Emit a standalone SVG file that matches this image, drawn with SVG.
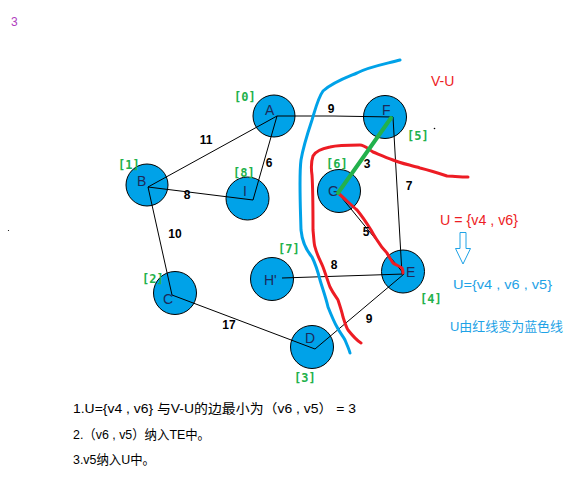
<svg xmlns="http://www.w3.org/2000/svg" width="586" height="480" viewBox="0 0 586 480">
<style>
.node{fill:#00a2e8;stroke:#000;stroke-width:1}
.nl{font-family:"Liberation Sans",Arial,sans-serif;font-size:14px;fill:#1c2a5a}
.edge{stroke:#000;stroke-width:1;fill:none}
.el{font-family:"Liberation Sans",Arial,sans-serif;font-size:12px;font-weight:bold;fill:#000;text-anchor:middle}
.gl{font-family:"DejaVu Sans Mono",monospace;font-size:12px;font-weight:bold;fill:#22b14c}
.txt{font-family:"Liberation Sans","Noto Sans CJK SC",sans-serif;font-size:13px;fill:#000}
.red{font-family:"Liberation Sans","Noto Sans CJK SC",sans-serif;font-size:14px;fill:#ed1c24}
.blue{font-family:"Liberation Sans","Noto Sans CJK SC",sans-serif;font-size:13px;fill:#1ea2e6}
</style>
<rect width="586" height="480" fill="#fff"/>
<text x="11" y="26" font-family="Liberation Sans,sans-serif" font-size="12" fill="#b040c0">3</text>
<g id="nA"><circle class="node" cx="274" cy="116" r="21"/><text class="nl" x="265" y="115">A</text></g>
<g id="nB"><circle class="node" cx="147" cy="185" r="21"/><text class="nl" x="137" y="186">B</text></g>
<g id="nI"><circle class="node" cx="247.5" cy="198.5" r="21.5"/><text class="nl" x="243" y="196">I</text></g>
<g id="nG"><circle class="node" cx="339" cy="191" r="21.5"/><text class="nl" x="328" y="196">G</text></g>
<g id="nF"><circle class="node" cx="385" cy="117" r="21.5"/><text class="nl" x="382" y="115">F</text></g>
<g id="nE"><circle class="node" cx="403" cy="271.5" r="21.5"/><text class="nl" x="406" y="277">E</text></g>
<g id="nH"><circle class="node" cx="272" cy="279" r="21.5"/><text class="nl" x="264" y="285">H'</text></g>
<g id="nC"><circle class="node" cx="175" cy="293" r="21.5"/><text class="nl" x="163" y="304">C</text></g>
<g id="nD"><circle class="node" cx="312" cy="347" r="21.5"/><text class="nl" x="305" y="343">D</text></g>
<g id="connectors">
<line class="edge" x1="277" y1="116" x2="148" y2="187"/>
<line class="edge" x1="277" y1="116" x2="253" y2="200"/>
<polyline class="edge" points="277,116 333,116 393,117"/>
<line class="edge" x1="148" y1="187" x2="253" y2="200"/>
<line class="edge" x1="148" y1="187" x2="172" y2="295"/>
<line class="edge" x1="172" y1="295" x2="315" y2="349"/>
<line class="edge" x1="315" y1="349" x2="404" y2="274"/>
<line class="edge" x1="282" y1="278" x2="404" y2="274"/>
<line class="edge" x1="393" y1="117" x2="402" y2="274"/>
<line class="edge" x1="338" y1="193" x2="404" y2="274"/>
</g>
<g id="curves" fill="none" stroke-linejoin="round" stroke-linecap="round">
<path d="M400,60 C385,64 368,67 357,73 C345,78 333,82 323,91 C318,98 316,107 312,120 C308,132 303,148 301,160 C299,175 300,195 301,230 C302,240 306,250 312,257 C316,265 318,272 320,280 C323,290 326,298 328,307 C332,317 334,322 337,327 C340,333 343,336 345,340 C347,345 349,349 350,353" stroke="#00a2e8" stroke-width="3"/>
<path d="M468,177 C460,177 452,176 447,176 C438,173 428,170 420,168 C410,165 400,163 393,160 C385,157 378,154 373,152 C367,148 364,145 360,145 C350,145 338,145 330,147 C320,149 315,152 313,156 C311,162 311,168 312,175 C313,190 313,210 313,230 C314,240 314,245 315,247 C317,255 320,260 323,267 C326,275 328,282 330,287 C333,293 336,297 338,300 C340,306 342,312 343,317 C345,323 346,327 348,330 C352,335 356,340 361,343" stroke="#ed1c24" stroke-width="3"/>
<path d="M338,193 C345,199 351,205 357,210 C362,216 366,222 371,230 C373,234 375,237 377,240 C380,245 384,250 387,253 C389,257 391,260 393,263 C396,265 399,266 402,268 C403,270 403,272 403,273" stroke="#ed1c24" stroke-width="3"/>
<line x1="338" y1="193" x2="391" y2="118" stroke="#22b14c" stroke-width="4"/>
</g>
<g id="edge-labels">
<text class="el" x="206" y="144">11</text>
<text class="el" x="269" y="167">6</text>
<text class="el" x="187" y="199">8</text>
<text class="el" x="331" y="113">9</text>
<text class="el" x="367" y="168">3</text>
<text class="el" x="409" y="190">7</text>
<text class="el" x="175" y="238">10</text>
<text class="el" x="366" y="236">5</text>
<text class="el" x="334" y="269">8</text>
<text class="el" x="229" y="329">17</text>
<text class="el" x="369" y="323">9</text>
</g>
<g id="index-labels">
<text class="gl" x="234" y="101">[0]</text>
<text class="gl" x="118" y="169">[1]</text>
<text class="gl" x="233" y="177">[8]</text>
<text class="gl" x="326" y="168">[6]</text>
<text class="gl" x="407" y="140">[5]</text>
<text class="gl" x="278" y="253">[7]</text>
<text class="gl" x="142" y="283">[2]</text>
<text class="gl" x="294" y="382">[3]</text>
<text class="gl" x="420" y="303">[4]</text>
</g>
<circle cx="434.5" cy="128.5" r="0.8" fill="#000"/>
<circle cx="8.5" cy="230.5" r="0.6" fill="#000"/>
<text class="red" x="431" y="86">V-U</text>
<text class="red" x="440" y="225" textLength="78" lengthAdjust="spacingAndGlyphs">U = {v4 , v6}</text>
<path d="M460,232.5 H466 V248.5 H470.5 L463,264 L455.5,248.5 H460 Z" fill="none" stroke="#1ea2e6" stroke-width="1"/>
<text class="blue" x="453" y="289" textLength="99" lengthAdjust="spacingAndGlyphs">U={v4 , v6 , v5}</text>
<text class="blue" x="450" y="331" textLength="113" lengthAdjust="spacingAndGlyphs">U由红线变为蓝色线</text>
<text class="txt" x="73" y="413" textLength="283" lengthAdjust="spacingAndGlyphs">1.U={v4 , v6} 与V-U的边最小为（v6 , v5） = 3</text>
<text class="txt" x="73" y="439" textLength="137" lengthAdjust="spacingAndGlyphs">2.（v6 , v5）纳入TE中。</text>
<text class="txt" x="73" y="464" textLength="82" lengthAdjust="spacingAndGlyphs">3.v5纳入U中。</text>
</svg>
